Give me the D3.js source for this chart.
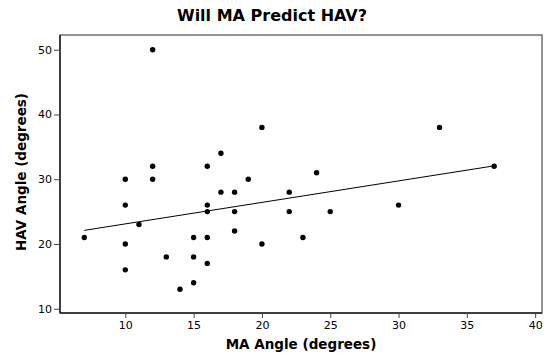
<!DOCTYPE html>
<html>
<head>
<meta charset="utf-8">
<script src="https://cdn.jsdelivr.net/npm/d3@7"></script>
<style>
  html, body { margin: 0; padding: 0; background: #fff; }
  svg { display: block; }
  text { font-family: Tahoma, "DejaVu Sans", Verdana, sans-serif; fill: #000; }
</style>
</head>
<body>
<svg id="chart" width="544" height="357"></svg>
<script>
// MA angle (x) and HAV angle (y) for each subject, in degrees
const maAngle  = [7, 10, 10, 10, 10, 11, 12, 12, 12, 13, 14, 15, 15, 15, 16, 16, 16, 16, 16,
                  17, 17, 18, 18, 18, 19, 20, 20, 22, 22, 23, 24, 25, 30, 33, 37];
const havAngle = [21, 30, 26, 20, 16, 23, 50, 32, 30, 18, 13, 21, 18, 14, 32, 26, 25, 21, 17,
                  34, 28, 28, 25, 22, 30, 38, 20, 28, 25, 21, 31, 25, 26, 38, 32];

// fitted regression line: HAV = intercept + slope * MA
const fitIntercept = 19.78;
const fitSlope = 0.332;

const xTicks = [10, 15, 20, 25, 30, 35, 40];
const yTicks = [10, 20, 30, 40, 50];

const svg = d3.select("#chart");
const plot = { left: 60, right: 542, top: 35, bottom: 313 };

const x = d3.scaleLinear().domain([5.22, 40.5]).range([plot.left, plot.right]);
const y = d3.scaleLinear().domain([9.34, 52.27]).range([plot.bottom, plot.top]);

// frame
svg.append("rect")
  .attr("x", plot.left).attr("y", plot.top)
  .attr("width", plot.right - plot.left).attr("height", plot.bottom - plot.top)
  .attr("fill", "none").attr("stroke", "#707070").attr("stroke-width", 1.5);

// axes
const xAxis = svg.append("g")
  .attr("transform", `translate(0,${plot.bottom})`)
  .call(d3.axisBottom(x).tickValues(xTicks).tickSize(5).tickPadding(3).tickFormat(d3.format("d")));
const yAxis = svg.append("g")
  .attr("transform", `translate(${plot.left},0)`)
  .call(d3.axisLeft(y).tickValues(yTicks).tickSize(6).tickPadding(2).tickFormat(d3.format("d")));

[xAxis, yAxis].forEach(g => {
  g.select(".domain").attr("stroke", "#222").attr("stroke-width", 1.5);
  g.selectAll(".tick line").attr("stroke", "#444");
  g.selectAll(".tick text").style("font-size", "11px").attr("fill", "#111");
});
xAxis.select(".domain").attr("d", `M${plot.left},0H${plot.right}`);
yAxis.select(".domain").attr("d", `M0,${plot.top}V${plot.bottom}`);

// regression line across the observed MA range
const [xMin, xMax] = d3.extent(maAngle);
svg.append("line")
  .attr("x1", x(xMin)).attr("y1", y(fitIntercept + fitSlope * xMin))
  .attr("x2", x(xMax)).attr("y2", y(fitIntercept + fitSlope * xMax))
  .attr("stroke", "#000").attr("stroke-width", 1);

// data points
svg.append("g").selectAll("circle")
  .data(d3.zip(maAngle, havAngle))
  .join("circle")
  .attr("cx", d => x(d[0]))
  .attr("cy", d => y(d[1]))
  .attr("r", 2.7)
  .attr("fill", "#000");

// title and axis labels
svg.append("text")
  .attr("x", 272).attr("y", 21)
  .attr("text-anchor", "middle")
  .style("font-size", "16px").style("font-weight", "bold")
  .text("Will MA Predict HAV?");

svg.append("text")
  .attr("x", (plot.left + plot.right) / 2).attr("y", 349)
  .attr("text-anchor", "middle")
  .style("font-size", "13.5px").style("font-weight", "bold")
  .text("MA Angle (degrees)");

svg.append("text")
  .attr("transform", `translate(26,${(plot.top + plot.bottom) / 2 - 2}) rotate(-90)`)
  .attr("text-anchor", "middle")
  .style("font-size", "13.5px").style("font-weight", "bold")
  .text("HAV Angle (degrees)");
</script>
</body>
</html>
